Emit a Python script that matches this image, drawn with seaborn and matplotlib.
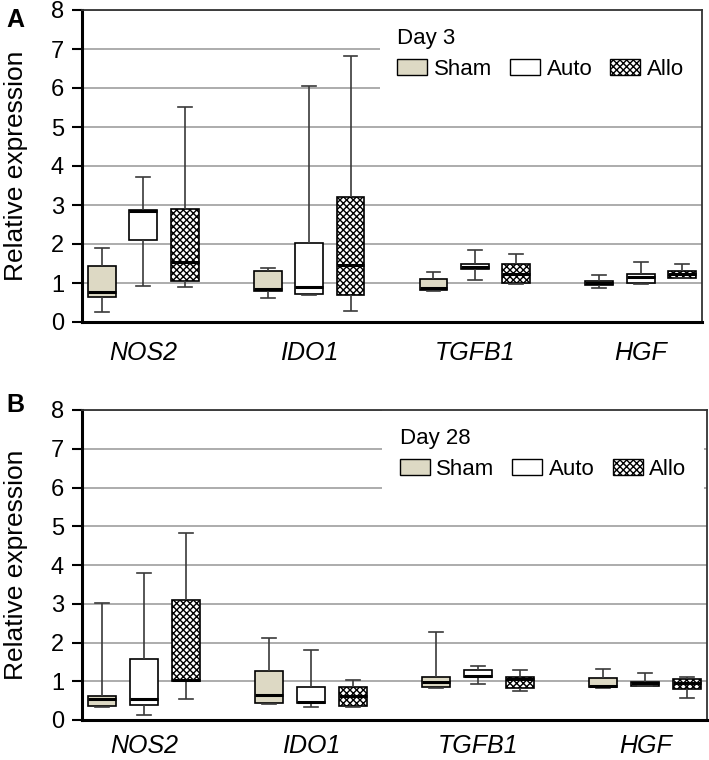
import numpy as np
import pandas as pd
import matplotlib
matplotlib.use("Agg")
import matplotlib.pyplot as plt
from matplotlib.patches import Patch
import seaborn as sns

plt.rcParams["font.family"] = ["Liberation Sans", "DejaVu Sans"]
plt.rcParams["hatch.linewidth"] = 1.0

genes = ["NOS2", "IDO1", "TGFB1", "HGF"]
groups = ["Sham", "Auto", "Allo"]

# five-number summaries per gene: min, q1, median, q3, max
day3_sham = [[0.25, 0.63, 0.76, 1.43, 1.90], [0.61, 0.80, 0.85, 1.30, 1.38],
             [0.80, 0.83, 0.86, 1.10, 1.27], [0.87, 0.94, 1.00, 1.04, 1.21]]
day3_auto = [[0.93, 2.11, 2.85, 2.87, 3.71], [0.68, 0.72, 0.91, 2.02, 6.04],
             [1.08, 1.37, 1.42, 1.49, 1.85], [0.98, 1.00, 1.15, 1.24, 1.55]]
day3_allo = [[0.90, 1.04, 1.54, 2.89, 5.51], [0.27, 0.70, 1.45, 3.20, 6.81],
             [0.98, 0.99, 1.22, 1.49, 1.74], [1.12, 1.14, 1.23, 1.30, 1.49]]

day28_sham = [[0.33, 0.37, 0.54, 0.63, 3.01], [0.42, 0.43, 0.65, 1.26, 2.12],
              [0.82, 0.86, 0.99, 1.12, 2.28], [0.83, 0.86, 0.88, 1.08, 1.32]]
day28_auto = [[0.13, 0.40, 0.54, 1.57, 3.80], [0.34, 0.43, 0.46, 0.86, 1.80],
              [0.93, 1.10, 1.14, 1.29, 1.39], [0.88, 0.89, 0.95, 0.99, 1.21]]
day28_allo = [[0.54, 1.01, 1.02, 3.10, 4.82], [0.34, 0.36, 0.62, 0.84, 1.03],
              [0.75, 0.83, 1.05, 1.10, 1.29], [0.58, 0.79, 0.95, 1.05, 1.10]]

sham_color = "#ddd9c4"
allo_key = "#fefefe"  # placeholder so the Allo boxes can be found and hatched
palette = {"Sham": sham_color, "Auto": "#ffffff", "Allo": allo_key}
hatch = "xxxxx"


def to_long(sham, auto, allo):
    rows = []
    for grp, series in zip(groups, [sham, auto, allo]):
        for gene, vals in zip(genes, series):
            for v in vals:
                rows.append({"gene": gene, "group": grp, "value": v})
    return pd.DataFrame(rows)


def draw(ax, df, day, xpad):
    sns.boxplot(data=df, x="gene", y="value", hue="group", order=genes,
                hue_order=groups, palette=palette, saturation=1, whis=(0, 100),
                width=0.75, gap=0.33, linecolor="black", linewidth=1.2,
                legend=False, ax=ax,
                medianprops=dict(linewidth=2.2, color="black"),
                whiskerprops=dict(color="#3a3a3a", linewidth=1.2),
                capprops=dict(color="#3a3a3a", linewidth=1.2))
    for p in ax.patches:
        if np.allclose(p.get_facecolor(), matplotlib.colors.to_rgba(allo_key)):
            p.set_facecolor("white")
            p.set_hatch(hatch)

    ax.set_xlim(-0.37, 3.37)
    ax.set_ylim(0, 8)
    ax.set_yticks(range(9))
    ax.yaxis.grid(True, color="#a6a6a6", linewidth=1.3)
    ax.set_axisbelow(True)
    ax.set_xlabel("")
    ax.set_ylabel("Relative expression", fontsize=19)
    ax.yaxis.set_label_coords(-0.087, 0.5)
    ax.tick_params(axis="y", labelsize=17, length=7, width=1.5, pad=6)
    ax.tick_params(axis="x", length=0, labelsize=18, pad=xpad)
    for lab in ax.get_xticklabels():
        lab.set_fontstyle("italic")

    ax.spines["left"].set_linewidth(2.2)
    ax.spines["bottom"].set_linewidth(2.2)
    for s in ["top", "right"]:
        ax.spines[s].set_linewidth(1.3)
        ax.spines[s].set_color("#333333")

    handles = [Patch(facecolor=sham_color, edgecolor="black", linewidth=1),
               Patch(facecolor="white", edgecolor="black", linewidth=1),
               Patch(facecolor="white", edgecolor="black", linewidth=1, hatch=hatch)]
    leg = ax.legend(handles, groups, title=day, loc="upper left",
                    bbox_to_anchor=(0.48, 1.0), ncol=3, fontsize=16,
                    title_fontsize=16, alignment="left", frameon=True,
                    fancybox=False, framealpha=1, facecolor="white",
                    edgecolor="none", borderpad=0.8, handlelength=1.35,
                    handleheight=0.72, handletextpad=0.3, columnspacing=0.8,
                    labelspacing=0.45, borderaxespad=0)
    leg.get_frame().set_linewidth(0)
    leg.set_zorder(2)


fig = plt.figure(figsize=(7.09, 7.6), dpi=100)
ax_a = fig.add_axes([82 / 709, 438 / 760, 620 / 709, 312 / 760])
ax_b = fig.add_axes([82 / 709, 40 / 760, 625 / 709, 310 / 760])

draw(ax_a, to_long(day3_sham, day3_auto, day3_allo), "Day 3", 14)
draw(ax_b, to_long(day28_sham, day28_auto, day28_allo), "Day 28", 10)

fig.text(6 / 709, 1 - 20 / 760, "A", fontsize=18, fontweight="bold", va="center")
fig.text(6 / 709, 1 - 405 / 760, "B", fontsize=18, fontweight="bold", va="center")

fig.savefig("out.png", dpi=100)
